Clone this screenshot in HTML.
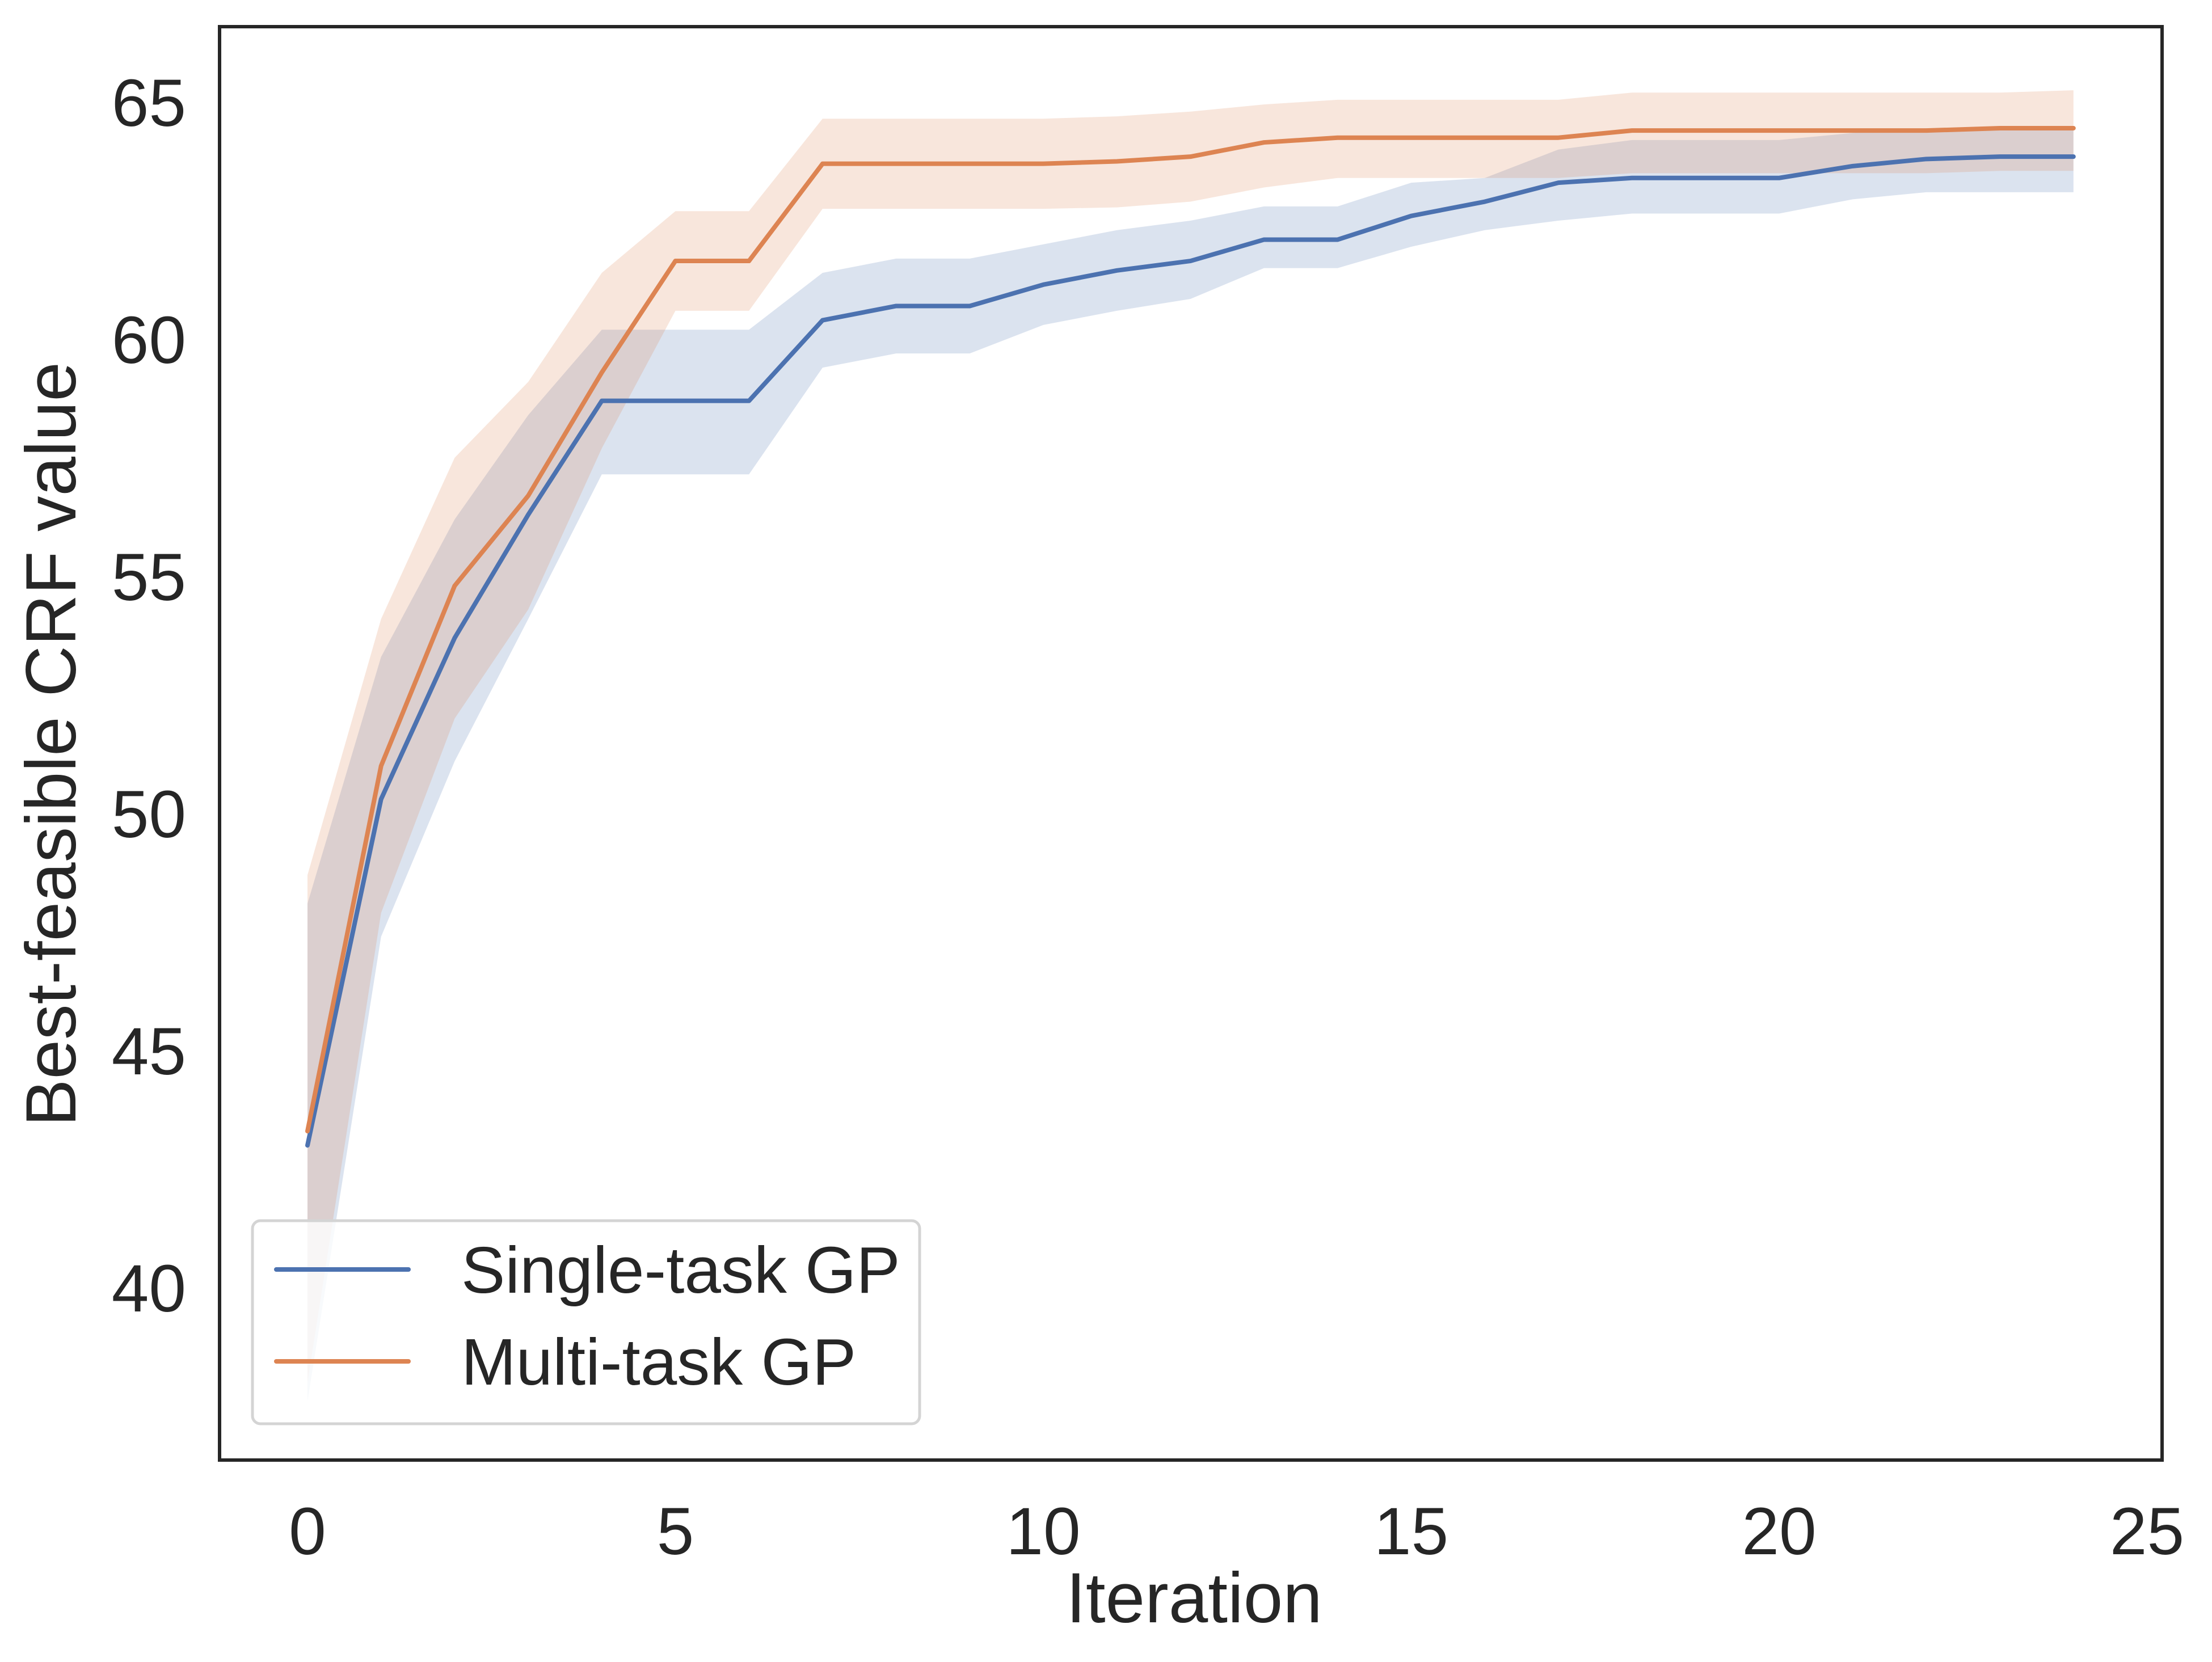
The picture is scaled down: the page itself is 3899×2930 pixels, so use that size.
<!DOCTYPE html>
<html><head><meta charset="utf-8"><style>
html,body{margin:0;padding:0;background:#fff}
svg{display:block;font-family:"Liberation Sans",Arial,sans-serif}
</style></head><body>
<svg id="chart" width="3899" height="2930" viewBox="0 0 3899 2930">
<g id="bands"></g>
<g id="lines"></g>
<rect x="387" y="47" width="3424" height="2527" fill="none" stroke="#262626" stroke-width="6"/>
<g id="xticks"></g>
<g id="yticks"></g>
<text x="2105" y="2860" font-size="125" text-anchor="middle" fill="#262626">Iteration</text>
<text transform="translate(100,1312) rotate(-90)" font-size="125" text-anchor="middle" dominant-baseline="middle" fill="#262626">Best-feasible CRF value</text>
<g>
<rect x="445" y="2152" width="1176" height="358" rx="14" fill="#fff" fill-opacity="0.8" stroke="#d4d4d4" stroke-width="5"/>
<line x1="487" y1="2238" x2="720" y2="2238" stroke="#4c72b0" stroke-width="8" stroke-linecap="round"/>
<text x="813" y="2279" font-size="116" fill="#262626">Single-task GP</text>
<line x1="487" y1="2400" x2="720" y2="2400" stroke="#dd8452" stroke-width="8" stroke-linecap="round"/>
<text x="813" y="2441" font-size="116" fill="#262626">Multi-task GP</text>
</g>
</svg>
<script>
const iterations = [0,1,2,3,4,5,6,7,8,9,10,11,12,13,14,15,16,17,18,19,20,21,22,23,24];
const singleMean = [43.0,50.3,53.7,56.3,58.7,58.7,58.7,60.4,60.7,60.7,61.15,61.45,61.65,62.1,62.1,62.6,62.9,63.3,63.4,63.4,63.4,63.65,63.8,63.85,63.85];
const singleUpper = [48.1,53.3,56.2,58.4,60.2,60.2,60.2,61.4,61.7,61.7,62.0,62.3,62.5,62.8,62.8,63.3,63.4,64.0,64.2,64.2,64.2,64.35,64.45,64.45,64.45];
const singleLower = [37.6,47.4,51.1,54.1,57.15,57.15,57.15,59.4,59.7,59.7,60.3,60.6,60.85,61.5,61.5,61.95,62.3,62.5,62.65,62.65,62.65,62.95,63.1,63.1,63.1];
const multiMean = [43.3,51.0,54.8,56.7,59.3,61.65,61.65,63.7,63.7,63.7,63.7,63.75,63.85,64.15,64.25,64.25,64.25,64.25,64.4,64.4,64.4,64.4,64.4,64.45,64.45];
const multiUpper = [48.7,54.1,57.5,59.1,61.4,62.7,62.7,64.65,64.65,64.65,64.65,64.7,64.8,64.95,65.05,65.05,65.05,65.05,65.2,65.2,65.2,65.2,65.2,65.2,65.25];
const multiLower = [38.0,47.9,52.0,54.3,57.7,60.6,60.6,62.75,62.75,62.75,62.75,62.78,62.9,63.2,63.4,63.4,63.4,63.4,63.5,63.5,63.5,63.5,63.5,63.55,63.55];
const xTickLabels = ["0","5","10","15","20","25"];
const yTickLabels = ["40","45","50","55","60","65"];

const NS="http://www.w3.org/2000/svg";
function xs(v){return 542+(v-0)*129.7;}
function ys(v){return 2270-(v-40)*83.6;}
function mk(tag,attrs,parent){const e=document.createElementNS(NS,tag);for(const k in attrs)e.setAttribute(k,attrs[k]);parent.appendChild(e);return e;}
const bands=document.getElementById('bands'), lines=document.getElementById('lines');
function band(lo,hi,color,name){
  let d=iterations.map((x,i)=>(i?'L':'M')+xs(x)+','+ys(hi[i])).join('');
  for(let i=iterations.length-1;i>=0;i--) d+='L'+xs(iterations[i])+','+ys(lo[i]);
  const p=mk('path',{d:d+'Z',fill:color,'fill-opacity':0.2},bands);
  
  
}
function line(vals,color,name){
  const d=iterations.map((x,i)=>(i?'L':'M')+xs(x)+','+ys(vals[i])).join('');
  const p=mk('path',{d:d,fill:'none',stroke:color,'stroke-width':8,'stroke-linejoin':'round','stroke-linecap':'round'},lines);
  
  
}
band(singleLower,singleUpper,'#4c72b0','single-task-band');
band(multiLower,multiUpper,'#dd8452','multi-task-band');
line(singleMean,'#4c72b0','single-task-line');
line(multiMean,'#dd8452','multi-task-line');
const xt=document.getElementById('xticks');
xTickLabels.forEach(l=>{
  const t=mk('text',{x:xs(+l),y:2740,'font-size':118,'text-anchor':'middle',fill:'#262626'},xt);
  t.textContent=l;
  
  
});
const yt=document.getElementById('yticks');
yTickLabels.forEach(l=>{
  const t=mk('text',{x:328,y:ys(+l)+42,'font-size':118,'text-anchor':'end',fill:'#262626'},yt);
  t.textContent=l;
  
  
});
</script>
</body></html>
